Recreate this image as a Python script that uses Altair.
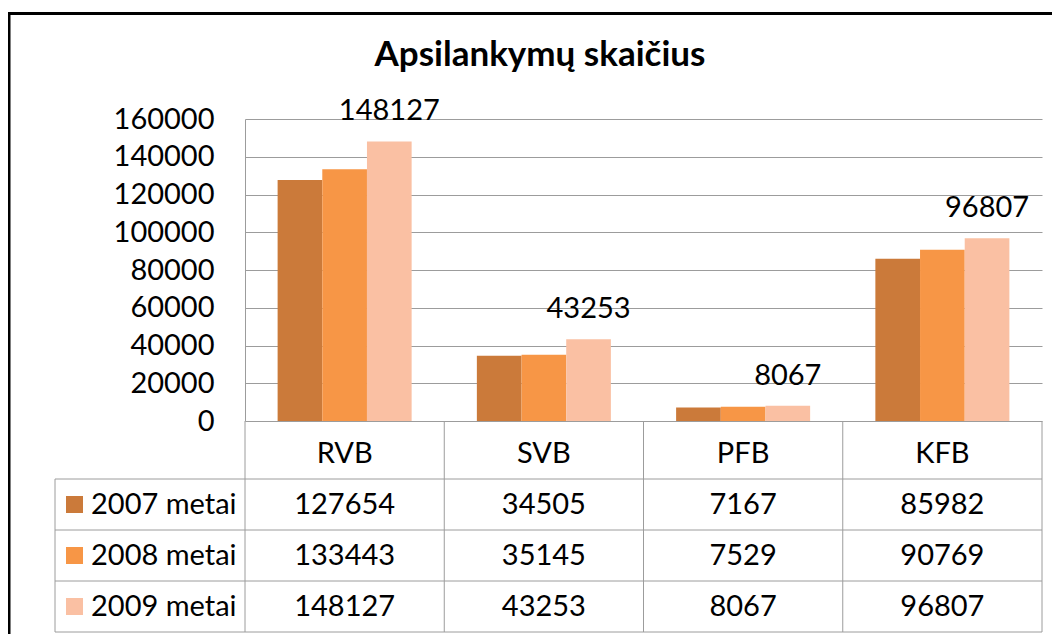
import altair as alt
import pandas as pd

# ---- data ----
categories = ["RVB", "SVB", "PFB", "KFB"]
series = ["2007 metai", "2008 metai", "2009 metai"]
v2007 = [127654, 34505, 7167, 85982]
v2008 = [133443, 35145, 7529, 90769]
v2009 = [148127, 43253, 8067, 96807]
title_text = "Apsilankymų skaičius"
y_ticks = [0, 20000, 40000, 60000, 80000, 100000, 120000, 140000, 160000]

colors = ["#CB7A3A", "#F79646", "#FAC0A3"]
FONT = "Lato"
FS = 29
GRID = "#9c9c9c"

rows = []
for s, vals in zip(series, [v2007, v2008, v2009]):
    for c, v in zip(categories, vals):
        rows.append({"cat": c, "series": s, "value": v})
df = pd.DataFrame(rows)
df_cat = pd.DataFrame({"cat": categories, "row": ["hdr"] * len(categories)})
df_ser = pd.DataFrame({"series": series})
df_one = pd.DataFrame({"t": [title_text]})

W, H = 797, 513
PLOT_H = 302

x_scale = alt.Scale(domain=categories, paddingInner=0, paddingOuter=0)
xo_scale = alt.Scale(domain=series, paddingInner=0, paddingOuter=0.73)
col_scale = alt.Scale(domain=series, range=colors)
y_val = alt.Scale(domain=[0, 160000], range=[PLOT_H, 0], nice=False, zero=True)
tbl_dom = ["hdr"] + series
tbl_y = alt.Scale(domain=tbl_dom, range=[309, 513], paddingInner=0, paddingOuter=0)

bars = alt.Chart(df).mark_bar().encode(
    x=alt.X("cat:N", scale=x_scale, axis=None),
    xOffset=alt.XOffset("series:N", scale=xo_scale),
    y=alt.Y("value:Q", scale=y_val,
            axis=alt.Axis(values=y_ticks, format="d", title=None, ticks=False,
                          labelPadding=31, labelFont=FONT, labelFontSize=FS,
                          labelColor="black", grid=True, gridColor=GRID,
                          gridWidth=1, domainColor=GRID, labelFlush=False,
                          labelOverlap=False)),
    color=alt.Color("series:N", scale=col_scale, legend=None),
)

labels = alt.Chart(df).transform_filter(
    alt.datum.series == "2009 metai"
).mark_text(font=FONT, fontSize=FS, baseline="alphabetic", dy=-21, color="black").encode(
    x=alt.X("cat:N", scale=x_scale, axis=None),
    xOffset=alt.XOffset("series:N", scale=xo_scale),
    y=alt.Y("value:Q", scale=y_val, axis=None),
    text=alt.Text("value:Q", format="d"),
)

header = alt.Chart(df_cat).mark_text(font=FONT, fontSize=FS, baseline="middle", color="black").encode(
    x=alt.X("cat:N", scale=x_scale, axis=None),
    y=alt.Y("row:N", scale=tbl_y, axis=None),
    text="cat:N",
)

cells = alt.Chart(df).mark_text(font=FONT, fontSize=FS, baseline="middle", color="black").encode(
    x=alt.X("cat:N", scale=x_scale, axis=None),
    y=alt.Y("series:N", scale=tbl_y, axis=None),
    text=alt.Text("value:Q", format="d"),
)

leg_sq = alt.Chart(df_ser).mark_square(size=289, opacity=1).encode(
    x=alt.value(-170.5),
    y=alt.Y("series:N", scale=tbl_y, axis=None),
    color=alt.Color("series:N", scale=col_scale, legend=None),
)

leg_txt = alt.Chart(df_ser).mark_text(font=FONT, fontSize=FS, align="left",
                                      baseline="middle", color="black").encode(
    x=alt.value(-154),
    y=alt.Y("series:N", scale=tbl_y, axis=None),
    text="series:N",
)

h_lines = alt.Chart(df_ser).mark_rule(color=GRID, strokeWidth=1).encode(
    x=alt.value(-190), x2=alt.value(W),
    y=alt.Y("series:N", scale=tbl_y, axis=None, bandPosition=0),
)
h_bottom = alt.Chart(df_ser).transform_filter(
    alt.datum.series == "2009 metai"
).mark_rule(color=GRID, strokeWidth=1).encode(
    x=alt.value(-190), x2=alt.value(W),
    y=alt.Y("series:N", scale=tbl_y, axis=None, bandPosition=1),
)
v_lines = alt.Chart(df_cat).mark_rule(color=GRID, strokeWidth=1).encode(
    x=alt.X("cat:N", scale=x_scale, axis=None, bandPosition=0),
    y=alt.value(PLOT_H), y2=alt.value(H),
)
v_right = alt.Chart(df_cat).transform_filter(
    alt.datum.cat == "KFB"
).mark_rule(color=GRID, strokeWidth=1).encode(
    x=alt.X("cat:N", scale=x_scale, axis=None, bandPosition=1),
    y=alt.value(PLOT_H), y2=alt.value(H),
)
v_leg = alt.Chart(df_one).mark_rule(color=GRID, strokeWidth=1).encode(
    x=alt.value(-190), y=alt.value(360), y2=alt.value(H),
)

title = alt.Chart(df_one).mark_text(font=FONT, fontSize=35, fontWeight="bold",
                                    baseline="alphabetic", align="center",
                                    color="black").encode(
    x=alt.value(295), y=alt.value(-53), text="t:N",
)

frame_top = alt.Chart(df_one).mark_rule(color="black", strokeWidth=3).encode(
    x=alt.value(-240), x2=alt.value(W + 40), y=alt.value(-105.5),
)
frame_left = alt.Chart(df_one).mark_rule(color="black", strokeWidth=3).encode(
    x=alt.value(-236), y=alt.value(-107), y2=alt.value(H + 20),
)

chart = alt.layer(
    bars, labels, header, cells, leg_sq, leg_txt,
    h_lines, h_bottom, v_lines, v_right, v_leg, title, frame_top, frame_left,
).resolve_scale(y="independent").properties(
    width=W, height=H,
    autosize=alt.AutoSizeParams(type="none"),
    padding={"left": 237, "top": 111, "right": 10, "bottom": 2},
    background="white",
).configure_view(stroke=None)

chart.save("out.html", embed_options={"renderer": "svg", "actions": False})
